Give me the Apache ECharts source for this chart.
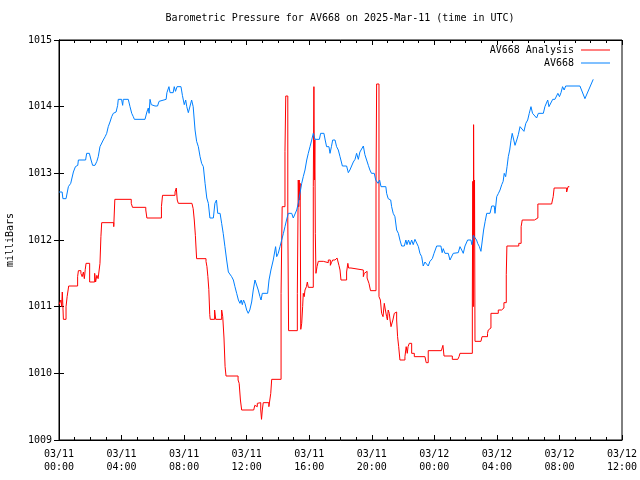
<!DOCTYPE html>
<html>
<head>
<meta charset="utf-8">
<script src="https://cdn.jsdelivr.net/npm/echarts@6/dist/echarts.min.js"></script>
<style>html,body{margin:0;padding:0;background:#fff}#c{width:640px;height:480px}</style>
</head>
<body>
<div id="c"></div>
<script>
// Hours since 2025-03-11 00:00 UTC
var xTickLabels = ['03/11\n00:00','03/11\n04:00','03/11\n08:00','03/11\n12:00','03/11\n16:00','03/11\n20:00','03/12\n00:00','03/12\n04:00','03/12\n08:00','03/12\n12:00'];
var seriesNames = ['AV668 Analysis', 'AV668'];

var analysisHours = [0,0.12,0.17,0.21,0.25,0.28,0.45,0.52,0.62,1.19,1.24,1.4,1.48,1.56,1.62,1.68,1.73,1.96,2.28,2.34,2.42,2.5,2.56,2.62,2.68,2.73,3.5,3.57,4.62,4.7,5.55,5.62,6.55,6.62,7.42,7.5,7.56,7.63,8.5,8.58,8.65,8.72,8.77,8.8,9.4,9.46,9.52,9.58,9.64,9.67,9.95,10.02,10.4,10.47,10.55,10.62,10.68,11.45,11.52,11.6,11.68,12.45,12.52,12.6,12.68,12.78,12.9,12.95,13.0,13.06,13.42,13.49,13.54,13.6,14.2,14.27,14.45,14.5,14.63,14.68,15.24,15.3,15.33,15.36,15.39,15.42,15.46,15.52,15.58,15.62,15.68,15.73,15.82,15.88,15.94,16.26,16.3,16.33,16.36,16.39,16.43,16.5,16.58,16.9,17.22,17.35,17.42,17.5,17.65,17.78,17.9,17.97,18.03,18.39,18.47,18.52,18.67,19.46,19.52,19.6,19.7,19.82,19.92,20.27,20.31,20.46,20.55,20.63,20.72,20.8,20.87,20.95,21.0,21.05,21.12,21.17,21.23,21.35,21.44,21.52,21.59,21.65,21.72,21.8,22.12,22.2,22.27,22.32,22.4,22.55,22.72,23.4,23.48,23.61,24.45,24.55,24.62,25.15,25.5,25.58,25.64,26.43,26.46,26.49,26.51,26.54,26.57,26.6,26.98,27.05,27.4,27.45,27.55,27.62,28.09,28.3,28.45,28.6,28.64,29.4,29.55,29.62,30.4,30.62,31.5,31.6,31.66,32.46,32.55,32.63];
var analysisPressure = [1011.03,1011.1,1011.0,1011.22,1011.0,1010.81,1011.0,1011.15,1011.31,1011.45,1011.54,1011.5,1011.45,1011.52,1011.42,1011.56,1011.65,1011.37,1011.5,1011.37,1011.47,1011.42,1011.4,1011.65,1012.05,1012.26,1012.2,1012.61,1012.55,1012.49,1012.45,1012.33,1012.5,1012.67,1012.72,1012.78,1012.6,1012.55,1012.52,1012.47,1012.3,1012.07,1011.85,1011.72,1011.68,1011.6,1011.45,1011.26,1010.88,1010.81,1010.95,1010.81,1010.95,1010.85,1010.53,1010.1,1009.96,1009.9,1009.85,1009.6,1009.45,1009.47,1009.52,1009.5,1009.55,1009.56,1009.45,1009.31,1009.45,1009.56,1009.5,1009.47,1009.7,1009.91,1011.2,1012.5,1013.33,1014.16,1012.3,1010.64,1011.2,1012.9,1012.5,1012.9,1012.6,1012.85,1010.66,1010.75,1011.0,1011.2,1011.15,1011.25,1011.3,1011.37,1011.29,1012.8,1014.3,1012.9,1013.5,1012.1,1011.5,1011.6,1011.68,1011.66,1011.7,1011.62,1011.66,1011.7,1011.73,1011.7,1011.62,1011.55,1011.4,1011.52,1011.65,1011.58,1011.55,1011.45,1011.5,1011.53,1011.43,1011.35,1011.24,1012.78,1014.34,1011.15,1011.1,1010.9,1010.85,1011.05,1010.95,1010.85,1010.8,1010.95,1010.9,1010.8,1010.7,1010.8,1010.9,1010.92,1010.8,1010.55,1010.4,1010.2,1010.25,1010.4,1010.3,1010.4,1010.45,1010.3,1010.25,1010.22,1010.16,1010.34,1010.32,1010.42,1010.26,1010.21,1010.18,1010.25,1010.3,1011.16,1012.88,1011.0,1013.73,1012.05,1012.9,1010.48,1010.5,1010.55,1010.6,1010.65,1010.68,1010.9,1010.95,1010.98,1011.06,1011.48,1011.91,1011.95,1012.2,1012.3,1012.33,1012.54,1012.55,1012.65,1012.78,1012.72,1012.8,1012.8];

var stationHours = [0,0.2,0.25,0.45,0.6,0.75,0.92,1.05,1.2,1.24,1.7,1.77,1.94,2.05,2.15,2.3,2.42,2.51,2.62,2.72,2.83,2.95,3.05,3.15,3.26,3.37,3.47,3.65,3.75,3.79,4.0,4.07,4.11,4.43,4.54,4.65,4.75,4.82,5.5,5.62,5.71,5.76,5.82,5.9,6.14,6.3,6.4,6.52,6.85,6.9,7.03,7.1,7.3,7.37,7.45,7.55,7.8,7.89,8.01,8.1,8.17,8.27,8.38,8.48,8.58,8.7,8.8,8.91,9.02,9.12,9.23,9.34,9.45,9.55,9.65,9.87,9.97,10.07,10.15,10.3,10.4,10.5,10.61,10.72,10.83,10.93,11.04,11.15,11.25,11.36,11.47,11.57,11.65,11.72,11.8,11.89,12.0,12.1,12.2,12.32,12.42,12.53,12.63,12.74,12.85,12.92,13.0,13.34,13.43,13.55,13.7,13.85,13.92,14.02,14.13,14.24,14.35,14.45,14.55,14.66,14.88,14.98,15.09,15.2,15.3,15.41,15.52,15.62,15.73,15.84,15.94,16.05,16.16,16.26,16.37,16.65,16.73,16.94,17.02,17.11,17.26,17.33,17.42,17.5,17.65,17.75,17.86,17.97,18.12,18.39,18.5,18.6,18.71,18.82,18.93,19.03,19.14,19.24,19.35,19.46,19.56,19.67,19.78,19.88,19.98,20.16,20.25,20.4,20.5,20.59,20.9,20.95,21.05,21.21,21.27,21.37,21.48,21.59,21.7,21.8,21.91,22.08,22.18,22.25,22.35,22.45,22.55,22.65,22.76,22.87,22.98,23.08,23.19,23.29,23.4,23.51,23.61,23.72,23.87,23.98,24.15,24.42,24.5,24.57,24.68,24.89,25.0,25.11,25.21,25.32,25.53,25.64,25.75,25.85,25.96,26.13,26.34,26.4,26.45,26.49,26.6,26.7,26.77,26.88,26.98,27.07,27.15,27.25,27.35,27.56,27.67,27.83,27.88,27.99,28.1,28.2,28.31,28.4,28.47,28.56,28.65,28.73,28.82,28.9,28.98,29.09,29.16,29.27,29.37,29.48,29.6,29.73,29.85,29.97,30.07,30.18,30.28,30.39,30.54,30.65,30.97,31.07,31.25,31.33,31.45,31.57,31.71,31.9,32.0,32.1,32.2,32.3,32.4,33.31,33.63,34.16];
var stationPressure = [1012.72,1012.72,1012.62,1012.62,1012.8,1012.85,1013.02,1013.1,1013.12,1013.2,1013.2,1013.3,1013.3,1013.2,1013.12,1013.12,1013.18,1013.25,1013.4,1013.42,1013.5,1013.55,1013.6,1013.7,1013.77,1013.85,1013.9,1013.92,1014.02,1014.11,1014.11,1014.02,1014.11,1014.11,1014.0,1013.9,1013.85,1013.81,1013.81,1013.92,1013.98,1013.9,1014.11,1014.03,1014.01,1014.01,1014.08,1014.11,1014.11,1014.21,1014.3,1014.21,1014.21,1014.3,1014.23,1014.3,1014.3,1014.17,1014.03,1014.1,1014.0,1013.91,1013.91,1014.1,1014.0,1013.65,1013.48,1013.4,1013.25,1013.15,1013.1,1012.85,1012.63,1012.55,1012.33,1012.33,1012.55,1012.6,1012.4,1012.4,1012.25,1012.1,1011.9,1011.7,1011.52,1011.5,1011.45,1011.4,1011.3,1011.2,1011.1,1011.05,1011.1,1011.03,1011.1,1011.05,1010.95,1010.9,1010.95,1011.07,1011.25,1011.4,1011.37,1011.25,1011.15,1011.1,1011.2,1011.2,1011.4,1011.55,1011.7,1011.9,1011.75,1011.8,1011.9,1012.0,1012.1,1012.2,1012.3,1012.4,1012.4,1012.33,1012.33,1012.45,1012.55,1012.7,1012.85,1012.95,1013.05,1013.2,1013.3,1013.4,1013.5,1013.6,1013.51,1013.51,1013.6,1013.6,1013.5,1013.4,1013.4,1013.3,1013.4,1013.5,1013.5,1013.4,1013.35,1013.25,1013.11,1013.11,1013.01,1013.05,1013.11,1013.17,1013.21,1013.3,1013.21,1013.32,1013.35,1013.41,1013.28,1013.2,1013.12,1013.05,1013.0,1013.0,1012.9,1012.85,1012.9,1012.8,1012.8,1012.7,1012.62,1012.6,1012.5,1012.4,1012.35,1012.15,1012.1,1012.0,1011.91,1011.91,1012.0,1011.93,1012.0,1011.93,1012.0,1011.93,1012.01,1012.0,1011.9,1011.8,1011.75,1011.61,1011.67,1011.7,1011.61,1011.68,1011.72,1011.8,1011.91,1011.91,1011.81,1011.87,1011.8,1011.8,1011.7,1011.7,1011.8,1011.81,1011.81,1011.9,1011.85,1011.8,1011.91,1012.0,1012.0,1011.93,1012.0,1012.07,1012.1,1012.0,1011.95,1011.9,1011.83,1012.0,1012.15,1012.28,1012.4,1012.4,1012.51,1012.51,1012.4,1012.65,1012.7,1012.75,1012.83,1012.88,1013.0,1012.95,1013.1,1013.25,1013.35,1013.49,1013.6,1013.6,1013.42,1013.5,1013.58,1013.7,1013.71,1013.63,1013.75,1013.8,1013.9,1014.0,1013.9,1013.9,1013.83,1013.9,1013.9,1014.0,1014.1,1014.0,1014.02,1014.11,1014.11,1014.2,1014.15,1014.21,1014.3,1014.25,1014.31,1014.31,1014.12,1014.41];

function zip(a, b) { return a.map(function (v, i) { return [v, b[i]]; }); }

var FONT = 'DejaVu Sans Mono';
var txt = { fontFamily: FONT, fontSize: 10, color: '#000' };
var blk = { color: '#000', width: 1 };

var chart = echarts.init(document.getElementById('c'), null, { renderer: 'canvas' });
chart.setOption({
  animation: false,
  backgroundColor: '#fff',
  title: {
    text: 'Barometric Pressure for AV668 on 2025-Mar-11 (time in UTC)',
    left: 340, top: 13, textAlign: 'center', padding: 0,
    textStyle: { fontFamily: FONT, fontSize: 10, fontWeight: 'normal', color: '#000' }
  },
  legend: [
    { data: [{ name: seriesNames[0], icon: 'rect' }], right: 30, top: 45, orient: 'vertical', align: 'right', padding: 0,
      itemWidth: 29, itemHeight: 1, textStyle: Object.assign({ padding: [0, 2, 0, 0] }, txt), selectedMode: false },
    { data: [{ name: seriesNames[1], icon: 'rect' }], right: 30, top: 58, orient: 'vertical', align: 'right', padding: 0,
      itemWidth: 29, itemHeight: 1, textStyle: Object.assign({ padding: [0, 2, 0, 0] }, txt), selectedMode: false }
  ],
  grid: { left: 59, right: 18, top: 40, bottom: 40, show: true, borderColor: '#000', borderWidth: 1,
    containLabel: false, outerBoundsMode: 'none' },
  xAxis: [
    { type: 'value', min: 0, max: 36, interval: 4, position: 'bottom',
      axisLine: { show: true, lineStyle: blk }, splitLine: { show: false },
      axisTick: { show: true, inside: true, length: 5, lineStyle: blk },
      minorTick: { show: true, splitNumber: 4, length: 3, lineStyle: blk },
      axisLabel: Object.assign({ margin: 8, lineHeight: 13, showMinLabel: true, showMaxLabel: true,
        formatter: function (v) { return xTickLabels[Math.round(v / 4)]; } }, txt) },
    { type: 'value', min: 0, max: 36, interval: 4, position: 'top',
      axisLine: { show: true, lineStyle: blk }, splitLine: { show: false },
      axisTick: { show: true, inside: true, length: 5, lineStyle: blk },
      minorTick: { show: true, splitNumber: 4, length: 3, lineStyle: blk },
      axisLabel: { show: false } }
  ],
  yAxis: [
    { type: 'value', min: 1009, max: 1015, interval: 1, position: 'left',
      name: 'milliBars', nameLocation: 'middle', nameRotate: 90, nameGap: 44,
      nameTextStyle: txt,
      axisLine: { show: true, lineStyle: blk }, splitLine: { show: false },
      axisTick: { show: true, inside: true, length: 5, lineStyle: blk },
      axisLabel: Object.assign({ margin: 7, formatter: function (v) { return String(v); } }, txt) },
    { type: 'value', min: 1009, max: 1015, interval: 1, position: 'right',
      axisLine: { show: true, lineStyle: blk }, splitLine: { show: false },
      axisTick: { show: true, inside: true, length: 5, lineStyle: blk },
      axisLabel: { show: false } }
  ],
  series: [
    { name: seriesNames[0], type: 'line', step: 'end', xAxisIndex: 0, yAxisIndex: 0,
      showSymbol: false, symbol: 'none', color: '#ff0000',
      lineStyle: { color: '#ff0000', width: 1 }, data: zip(analysisHours, analysisPressure) },
    { name: seriesNames[1], type: 'line', xAxisIndex: 0, yAxisIndex: 0,
      showSymbol: false, symbol: 'none', color: '#0080ff',
      lineStyle: { color: '#0080ff', width: 1 }, data: zip(stationHours, stationPressure) }
  ]
});
</script>
</body>
</html>
